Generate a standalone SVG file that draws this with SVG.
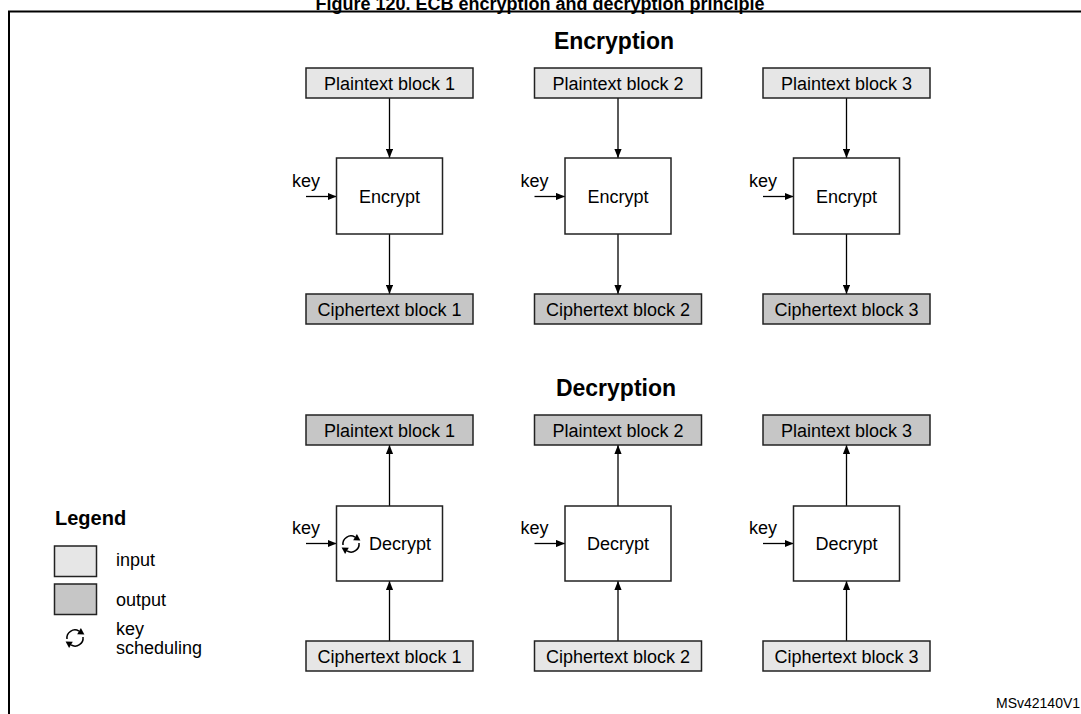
<svg xmlns="http://www.w3.org/2000/svg" width="1081" height="714" viewBox="0 0 1081 714">
<style>
text{font-family:"Liberation Sans",Arial,sans-serif;fill:#000}
.t{font-size:18px}
.c{text-anchor:middle}
.h{font-size:23px;font-weight:bold;text-anchor:middle}
.in{fill:#e6e6e6;stroke:#222;stroke-width:1.5}
.out{fill:#c6c6c6;stroke:#222;stroke-width:1.5}
.p{fill:#fff;stroke:#222;stroke-width:1.5}
.ar{stroke:#000;stroke-width:1.3;fill:none;marker-end:url(#ah)}
.ico{stroke:#000;stroke-width:1.5;fill:none}
</style>
<defs>
<marker id="ah" viewBox="0 0 10 8" refX="10" refY="4" markerWidth="9" markerHeight="7.5" markerUnits="userSpaceOnUse" orient="auto">
<path d="M0,0 L10,4 L0,8 Z" fill="#000"/>
</marker>
<g id="ks">
<path class="ico" d="M-8,1 A8,8 0 0 1 4,-6.93"/>
<polygon points="9.4,-3.6 5.9,-10.1 2.2,-3.8" fill="#000"/>
<path class="ico" d="M8,-1 A8,8 0 0 1 -4,6.93"/>
<polygon points="-9.4,3.6 -5.9,10.1 -2.2,3.8" fill="#000"/>
</g>
</defs>
<rect width="1081" height="714" fill="#fff"/>
<g id="frame">
<text x="540" y="10" style="font-size:18px;font-weight:bold;text-anchor:middle">Figure 120. ECB encryption and decryption principle</text>
<line x1="8" y1="11.5" x2="1081" y2="11.5" stroke="#000" stroke-width="2"/>
<line x1="9" y1="11" x2="9" y2="714" stroke="#000" stroke-width="2"/>
</g>
<text class="h" x="614" y="48.5">Encryption</text>
<text class="h" x="616" y="395.5">Decryption</text>

<g id="connectors">
<line class="ar" x1="389.5" y1="98" x2="389.5" y2="158"/>
<line class="ar" x1="389.5" y1="234" x2="389.5" y2="294"/>
<line class="ar" x1="306" y1="196.5" x2="336.5" y2="196.5"/>
<line class="ar" x1="618" y1="98" x2="618" y2="158"/>
<line class="ar" x1="618" y1="234" x2="618" y2="294"/>
<line class="ar" x1="534.5" y1="196.5" x2="565" y2="196.5"/>
<line class="ar" x1="846.5" y1="98" x2="846.5" y2="158"/>
<line class="ar" x1="846.5" y1="234" x2="846.5" y2="294"/>
<line class="ar" x1="763" y1="196.5" x2="793.5" y2="196.5"/>

<line class="ar" x1="389.5" y1="641" x2="389.5" y2="581"/>
<line class="ar" x1="389.5" y1="506" x2="389.5" y2="445"/>
<line class="ar" x1="306" y1="543.5" x2="336.5" y2="543.5"/>
<line class="ar" x1="618" y1="641" x2="618" y2="581"/>
<line class="ar" x1="618" y1="506" x2="618" y2="445"/>
<line class="ar" x1="534.5" y1="543.5" x2="565" y2="543.5"/>
<line class="ar" x1="846.5" y1="641" x2="846.5" y2="581"/>
<line class="ar" x1="846.5" y1="506" x2="846.5" y2="445"/>
<line class="ar" x1="763" y1="543.5" x2="793.5" y2="543.5"/>
</g>

<g id="enc-pt1"><rect class="in" x="306" y="68" width="167" height="30"/><text class="t c" x="389.5" y="89.5">Plaintext block 1</text></g>
<g id="enc-pt2"><rect class="in" x="534.5" y="68" width="167" height="30"/><text class="t c" x="618" y="89.5">Plaintext block 2</text></g>
<g id="enc-pt3"><rect class="in" x="763" y="68" width="167" height="30"/><text class="t c" x="846.5" y="89.5">Plaintext block 3</text></g>

<g id="enc1"><rect class="p" x="336.5" y="158" width="106" height="76"/><text class="t c" x="389.5" y="202.5">Encrypt</text><text class="t" x="292" y="187">key</text></g>
<g id="enc2"><rect class="p" x="565" y="158" width="106" height="76"/><text class="t c" x="618" y="202.5">Encrypt</text><text class="t" x="520.5" y="187">key</text></g>
<g id="enc3"><rect class="p" x="793.5" y="158" width="106" height="76"/><text class="t c" x="846.5" y="202.5">Encrypt</text><text class="t" x="749" y="187">key</text></g>

<g id="enc-ct1"><rect class="out" x="306" y="294" width="167" height="30"/><text class="t c" x="389.5" y="315.5">Ciphertext block 1</text></g>
<g id="enc-ct2"><rect class="out" x="534.5" y="294" width="167" height="30"/><text class="t c" x="618" y="315.5">Ciphertext block 2</text></g>
<g id="enc-ct3"><rect class="out" x="763" y="294" width="167" height="30"/><text class="t c" x="846.5" y="315.5">Ciphertext block 3</text></g>

<g id="dec-pt1"><rect class="out" x="306" y="415" width="167" height="30"/><text class="t c" x="389.5" y="436.5">Plaintext block 1</text></g>
<g id="dec-pt2"><rect class="out" x="534.5" y="415" width="167" height="30"/><text class="t c" x="618" y="436.5">Plaintext block 2</text></g>
<g id="dec-pt3"><rect class="out" x="763" y="415" width="167" height="30"/><text class="t c" x="846.5" y="436.5">Plaintext block 3</text></g>

<g id="dec1"><rect class="p" x="336.5" y="506" width="106" height="75"/><use href="#ks" x="351" y="544"/><text class="t" x="369" y="549.5">Decrypt</text><text class="t" x="292" y="534">key</text></g>
<g id="dec2"><rect class="p" x="565" y="506" width="106" height="75"/><text class="t c" x="618" y="549.5">Decrypt</text><text class="t" x="520.5" y="534">key</text></g>
<g id="dec3"><rect class="p" x="793.5" y="506" width="106" height="75"/><text class="t c" x="846.5" y="549.5">Decrypt</text><text class="t" x="749" y="534">key</text></g>

<g id="dec-ct1"><rect class="in" x="306" y="641" width="167" height="30"/><text class="t c" x="389.5" y="662.5">Ciphertext block 1</text></g>
<g id="dec-ct2"><rect class="in" x="534.5" y="641" width="167" height="30"/><text class="t c" x="618" y="662.5">Ciphertext block 2</text></g>
<g id="dec-ct3"><rect class="in" x="763" y="641" width="167" height="30"/><text class="t c" x="846.5" y="662.5">Ciphertext block 3</text></g>

<g id="legend">
<text x="55" y="525" style="font-size:20px;font-weight:bold">Legend</text>
<rect class="in" x="54.5" y="546" width="42" height="30.5"/>
<text class="t" x="116" y="566">input</text>
<rect class="out" x="54.5" y="584" width="42" height="30.5"/>
<text class="t" x="116" y="606">output</text>
<use href="#ks" x="75" y="638"/>
<text class="t" x="116" y="635">key</text>
<text class="t" x="116" y="653.5">scheduling</text>
</g>
<text x="996" y="708" style="font-size:14px">MSv42140V1</text>
</svg>
